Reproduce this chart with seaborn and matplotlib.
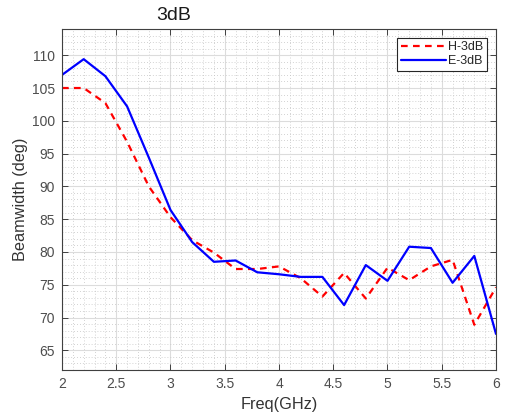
import numpy as np
import pandas as pd
import matplotlib
matplotlib.use('Agg')
import matplotlib.pyplot as plt
from matplotlib.ticker import MultipleLocator
import seaborn as sns

freq = [2.0, 2.2, 2.4, 2.6, 2.8, 3.0, 3.2, 3.4, 3.6, 3.8, 4.0,
        4.2, 4.4, 4.6, 4.8, 5.0, 5.2, 5.4, 5.6, 5.8, 6.0]
h_3db = [105.0, 105.0, 102.7, 96.8, 90.0, 85.3, 81.8, 79.9, 77.4, 77.4, 77.8,
         76.0, 73.2, 76.8, 72.9, 77.6, 75.7, 77.8, 78.8, 68.9, 74.6]
e_3db = [107.0, 109.4, 106.8, 102.2, 94.4, 86.4, 81.5, 78.5, 78.7, 76.9, 76.6,
         76.2, 76.2, 71.9, 78.0, 75.6, 80.8, 80.6, 75.3, 79.4, 67.5]

df = pd.DataFrame({'freq': freq * 2,
                   'bw': h_3db + e_3db,
                   'series': ['H-3dB'] * len(freq) + ['E-3dB'] * len(freq)})

sns.set_style('white')
plt.rcParams['font.family'] = ['Liberation Sans', 'DejaVu Sans']

fig = plt.figure(figsize=(5.1, 4.15), dpi=100)
ax = fig.add_axes([62 / 510, 1 - 370 / 415, 434 / 510, 341 / 415])

sns.lineplot(data=df, x='freq', y='bw', hue='series', style='series',
             palette={'H-3dB': 'red', 'E-3dB': 'blue'},
             dashes={'H-3dB': (3, 2.4), 'E-3dB': ''},
             linewidth=1.6, ax=ax)

ax.set_xlim(2, 6)
ax.set_ylim(62, 114)
ax.xaxis.set_major_locator(MultipleLocator(0.5))
ax.xaxis.set_minor_locator(MultipleLocator(0.1))
ax.yaxis.set_major_locator(MultipleLocator(5))
ax.yaxis.set_minor_locator(MultipleLocator(1))
ax.set_xticklabels([f'{v:g}' for v in ax.get_xticks()])

ax.grid(which='major', color='#dcdcdc', linewidth=0.8, linestyle='-')
ax.grid(which='minor', color='#c4c4c4', linewidth=0.6, linestyle=(0, (1, 2.5)))
ax.set_axisbelow(True)

ax.tick_params(which='major', direction='in', length=4, width=0.7, color='#404040',
               labelsize=10, labelcolor='#4d4d4d', top=True, right=True,
               bottom=True, left=True, pad=5)
ax.tick_params(which='minor', length=0)
for s in ax.spines.values():
    s.set_color('#404040')
    s.set_linewidth(0.8)

ax.set_xlabel('Freq(GHz)', fontsize=11.7, color='#333333', labelpad=4)
ax.set_ylabel('Beamwidth (deg)', fontsize=11.7, color='#333333', labelpad=3)
fig.text(174 / 510, 1 - 16 / 415, '3dB', fontsize=14, ha='center', va='center',
         color='#1a1a1a')

leg = ax.legend(loc='upper right', fontsize=9, frameon=True, fancybox=False,
                handlelength=3.6, borderpad=0.3, labelspacing=0.15,
                handletextpad=0.2, borderaxespad=0.7)
leg.get_frame().set_edgecolor('#262626')
leg.get_frame().set_linewidth(0.8)
leg.get_frame().set_alpha(1)

fig.savefig('out.png', dpi=100)
